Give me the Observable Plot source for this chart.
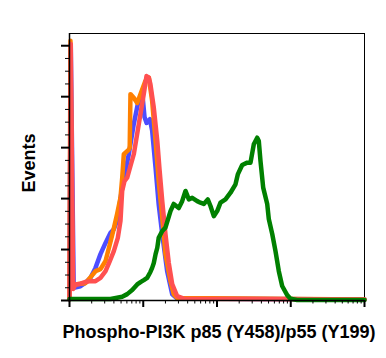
<!DOCTYPE html>
<html>
<head>
<meta charset="utf-8">
<script src="https://cdn.jsdelivr.net/npm/d3@7"></script>
<script src="https://cdn.jsdelivr.net/npm/@observablehq/plot@0.6"></script>
<style>
  html, body { margin: 0; padding: 0; background: #fff; }
  #chart { width: 386px; height: 358px; }
</style>
</head>
<body>
<div id="chart"></div>
<script>
// Tick positions (no labels shown)
const xMajor = [1, 10, 100, 1000, 10000];
const xMinor = [2, 3, 4, 5, 6, 7, 8, 9, 20, 30, 40, 50, 60, 70, 80, 90,
  200, 300, 400, 500, 600, 700, 800, 900, 2000, 3000, 4000, 5000, 6000, 7000, 8000, 9000];
const yMajor = [0, 20, 40, 60, 80, 100];
const yMinor = [5, 10, 15, 25, 30, 35, 45, 50, 55, 65, 70, 75, 85, 90, 95];

const xLabel = "Phospho-PI3K p85 (Y458)/p55 (Y199)";
const yLabel = "Events";

// Histogram series: [intensity, % of max]
const blue = [[1, 0.5], [1.04, 100.3], [1.14, 5.0], [1.41, 5.6], [1.65, 7.0], [1.93, 8.9], [2.25, 12.8],
  [2.63, 18.2], [3.08, 22.6], [3.6, 26.6], [3.99, 28.0], [4.43, 31.5], [5.18, 44.3], [6.37, 57.4],
  [7.44, 69.3], [8.44, 77.1], [9.18, 79.6], [9.77, 80.5], [10.4, 72.0], [11.1, 69.7], [12.3, 71.2],
  [13.2, 66.7], [14.7, 52.0], [16.2, 37.7], [18.1, 26.0], [21.1, 11.5], [24.7, 2.4], [28.8, 0.8], [10000, 0.4]];

const orange = [[1, 0.5], [1.03, 102], [1.1, 5.6], [1.21, 6.3], [1.41, 6.6], [1.65, 6.8], [1.93, 9.2],
  [2.25, 11.5], [2.63, 12.3], [3.08, 15.5], [3.6, 23.1], [3.99, 28.3], [4.43, 34.1], [4.91, 40.3],
  [5.18, 48.0], [5.45, 57.4], [6.37, 59.2], [6.55, 60.0], [6.71, 81.0], [7.44, 79.6], [8.28, 77.5],
  [9.18, 81.0], [10.7, 86.2], [11.9, 87.5], [13.2, 78.3], [14.7, 62.6], [16.2, 46.9], [18.1, 32.5],
  [20.0, 18.2], [23.4, 7.6], [25.9, 2.5], [28.8, 1.0], [10000, 0.4]];

const red = [[1, 0.5], [1.04, 100.7], [1.12, 4.5], [1.21, 6.3], [1.41, 6.6], [1.65, 7.3], [1.93, 7.6],
  [2.25, 7.6], [2.63, 8.9], [3.08, 11.5], [3.52, 15.5], [3.99, 19.4], [4.52, 24.6], [4.91, 31.2],
  [5.18, 43.0], [5.57, 46.9], [6.06, 48.2], [6.71, 52.8], [7.44, 57.4], [8.71, 69.3], [10.17, 81.1],
  [11.07, 88.1], [11.9, 87.5], [12.5, 85.0], [13.9, 75.7], [15.5, 62.6], [16.6, 51.6], [18.1, 39.0],
  [20.0, 26.1], [22.2, 14.7], [24.7, 6.4], [28.8, 1.7], [35.5, 0.7], [10000, 0.35]];

const green = [[1, 0.6], [3.6, 0.6], [4.43, 1.1], [5.18, 1.5], [6.06, 2.5], [7.08, 4.1], [8.28, 6.3],
  [9.18, 7.2], [10.17, 8.0], [11.3, 8.9], [12.5, 11.2], [13.2, 12.8], [13.9, 14.7], [14.7, 18.2],
  [15.5, 20.7], [16.2, 24.6], [18.1, 27.3], [20.0, 28.6], [23.4, 35.1], [25.9, 37.9], [30.3, 36.3],
  [33.7, 39.0], [37.4, 43.0], [41.5, 39.7], [46.1, 40.3], [53.9, 39.0], [59.7, 38.4], [66.2, 37.9],
  [75.0, 39.7], [81.6, 37.1], [90.5, 33.1], [100.6, 35.1], [111.5, 38.4], [130.3, 39.7], [152.4, 42.3],
  [178.2, 45.6], [191.4, 49.5], [219.6, 53.2], [256.8, 54.1], [284.6, 54.1], [315.4, 61.3],
  [350.8, 63.9], [368.7, 62.6], [388.9, 54.7], [423, 44.3], [479.6, 37.9], [504, 32.0], [561, 26.1],
  [621, 19.4], [689, 11.5], [765, 5.7], [895, 2.1], [993, 0.7], [1224, 0.2], [10000, 0.2]];

const series = [
  {data: blue, color: "#4d4dff"},
  {data: orange, color: "#ff8000"},
  {data: red, color: "#ff5050"},
  {data: green, color: "#008000"}
];

const noLabel = () => "";

const plot = Plot.plot({
  width: 386,
  height: 358,
  marginLeft: 69,
  marginRight: 22,
  marginTop: 33,
  marginBottom: 58,
  style: {background: "#fff", overflow: "visible"},
  x: {type: "log", domain: [1, 10000]},
  y: {domain: [0, 104.8]},
  marks: [
    Plot.frame({stroke: "#000", strokeWidth: 1}),
    ...series.map(s => Plot.line(s.data, {x: d => d[0], y: d => d[1], stroke: s.color, strokeWidth: 4.5,
      strokeLinejoin: "round", strokeLinecap: "round"})),
    Plot.axisY({ticks: yMajor, tickSize: 8, tickFormat: noLabel, label: null, strokeWidth: 2}),
    Plot.axisY({ticks: yMinor, tickSize: 4, tickFormat: noLabel, label: null, strokeWidth: 1}),
    Plot.axisX({ticks: xMajor, tickSize: 7, tickFormat: noLabel, label: null, strokeWidth: 2}),
    Plot.axisX({ticks: xMinor, tickSize: 3.5, tickFormat: noLabel, label: null, strokeWidth: 1}),
    Plot.ruleX([1], {stroke: "#000", strokeWidth: 1.5}),
    Plot.ruleY([0], {stroke: "#000", strokeWidth: 1.5})
  ]
});

const svg = d3.select(plot);
svg.append("text")
  .attr("x", 219).attr("y", 338)
  .attr("text-anchor", "middle")
  .attr("font-family", "'Liberation Sans', Arial, sans-serif")
  .attr("font-weight", "bold")
  .attr("font-size", 18)
  .attr("fill", "#000")
  .text(xLabel);
svg.append("text")
  .attr("transform", "translate(35,163) rotate(-90)")
  .attr("text-anchor", "middle")
  .attr("font-family", "'Liberation Sans', Arial, sans-serif")
  .attr("font-weight", "bold")
  .attr("font-size", 18)
  .attr("fill", "#000")
  .text(yLabel);

document.getElementById("chart").appendChild(plot);
</script>
</body>
</html>
